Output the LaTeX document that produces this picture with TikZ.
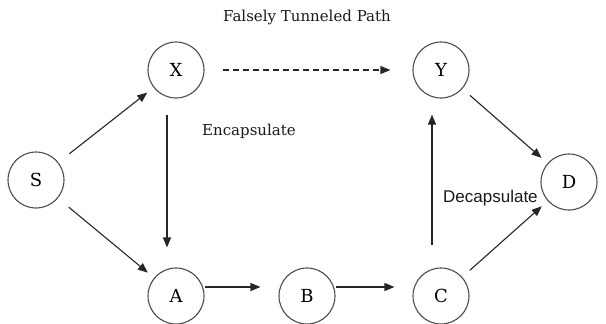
\documentclass[tikz,border=0pt]{standalone}
\usepackage{fontspec}
\setmainfont{DejaVu Serif}
\newfontfamily\sansf{Liberation Sans}
\usetikzlibrary{arrows.meta}
\begin{document}
\begin{tikzpicture}[x=1pt,y=-1pt,
  vert/.style={draw=black!70, line width=1.1pt, circle, minimum size=56pt, inner sep=0pt,
    font=\fontsize{18}{18}\selectfont, text=black},
  conn/.style={draw=black!85, line width=1.1pt, -{Triangle[length=10pt,width=8pt]}},
  lbl/.style={font=\fontsize{15}{16}\selectfont, text=black!90, inner sep=0pt}]
\useasboundingbox (0,0) rectangle (606,324);
\node[vert] (S) at (36,180) {S};
\node[vert] (X) at (176,70) {X};
\node[vert] (Y) at (441,70) {Y};
\node[vert] (D) at (569,182) {D};
\node[vert] (A) at (176,296) {A};
\node[vert] (B) at (307,296) {B};
\node[vert] (C) at (441,296) {C};
\node[lbl] (t1) at (307,17) {Falsely Tunneled Path};
\node[lbl, anchor=west] (t2) at (202,131) {Encapsulate};
\node[lbl, anchor=west, font=\sansf\fontsize{17}{18}\selectfont] (t3) at (443,198) {Decapsulate};
\draw[conn, shorten <=14pt, shorten >=8pt] (S) -- (X);
\draw[conn, shorten <=14pt, shorten >=8pt] (S) -- (A);
\draw[conn, shorten <=16pt, shorten >=20pt] ([xshift=-9pt]X.south) -- ([xshift=-9pt]A.north);
\draw[conn, dashed, dash pattern=on 6pt off 4pt, shorten <=18pt, shorten >=22pt] (X) -- (Y);
\draw[conn, shorten <=22pt, shorten >=16pt] ([xshift=-9pt]C.north) -- ([xshift=-9pt]Y.south);
\draw[conn, shorten <=10pt, shorten >=8pt] (Y) -- (D);
\draw[conn, shorten <=10pt, shorten >=8pt] (C) -- (D);
\draw[conn, shorten <=0pt, shorten >=18pt] ([yshift=9pt]A.east) -- ([yshift=9pt]B.west);
\draw[conn, shorten <=0pt, shorten >=18pt] ([yshift=9pt]B.east) -- ([yshift=9pt]C.west);
\end{tikzpicture}
\end{document}
